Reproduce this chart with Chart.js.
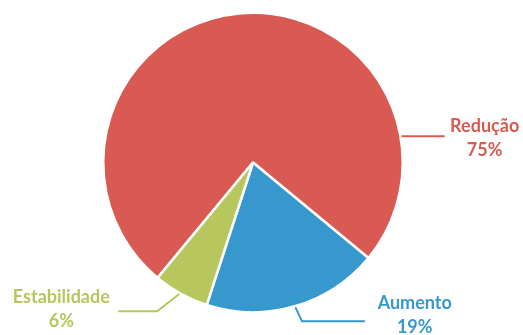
<!DOCTYPE html>
<html><head><meta charset="utf-8">
<script src="https://cdn.jsdelivr.net/npm/chart.js@4/dist/chart.umd.min.js"></script>
<style>html,body{margin:0;padding:0;background:#fff}#wrap{width:523px;height:335px}</style>
</head><body><div id="wrap"><canvas id="c" width="523" height="335"></canvas></div>
<script>
const categories = ['Redução', 'Aumento', 'Estabilidade'];
const values = [75, 19, 6];
const valueLabels = ['75%', '19%', '6%'];
const colors = ['#D95A52', '#3798CE', '#B7C75D'];

// leader/label geometry in units of radius relative to the pie center
const labelGeom = [
  {ang: -10, pts: [[1.28, null]], text: [1.547, -0.24, 0.0]},
  {ang: 73.7, pts: [[0.327, 1.06], [0.747, 1.06]], text: [1.08, 0.94, 1.107]},
  {ang: 119.3, pts: [[-0.64, 0.993], [-0.9, 0.993]], text: [-1.28, 0.9, 1.067]}
];

const labelPlugin = {
  id: 'pieLabels',
  afterDatasetsDraw(chart) {
    const ctx = chart.ctx;
    const meta = chart.getDatasetMeta(0);
    meta.data.forEach((arc, i) => {
      const cx = arc.x, cy = arc.y, r = arc.outerRadius;
      const g = labelGeom[i];
      const a = g.ang * Math.PI / 180;
      const sx = cx + Math.cos(a) * (r + 1), sy = cy + Math.sin(a) * (r + 1);
      ctx.save();
      ctx.strokeStyle = colors[i];
      ctx.lineWidth = 2;
      ctx.beginPath();
      ctx.moveTo(sx, sy);
      g.pts.forEach(p => {
        const px = cx + p[0] * r;
        const py = p[1] === null ? sy : cy + p[1] * r;
        ctx.lineTo(px, py);
      });
      ctx.stroke();
      ctx.fillStyle = colors[i];
      ctx.font = 'bold 18px Lato, "Open Sans", sans-serif';
      ctx.textAlign = 'center';
      ctx.textBaseline = 'middle';
      const tx = cx + g.text[0] * r;
      const ty1 = cy + g.text[1] * r;
      const ty2 = ty1 + 24;
      ctx.fillText(categories[i], tx, ty1);
      ctx.fillText(valueLabels[i], tx, ty2);
      ctx.restore();
    });
  }
};

new Chart(document.getElementById('c'), {
  type: 'pie',
  data: {
    labels: categories,
    datasets: [{
      data: values,
      backgroundColor: colors,
      borderColor: '#ffffff',
      borderWidth: 2.5,
      hoverOffset: 0
    }]
  },
  options: {
    responsive: false,
    animation: false,
    rotation: 219.6,
    layout: {padding: {left: 102, right: 119, top: 11, bottom: 21}},
    plugins: {legend: {display: false}, tooltip: {enabled: false}}
  },
  plugins: [labelPlugin]
});
</script>
</body></html>
